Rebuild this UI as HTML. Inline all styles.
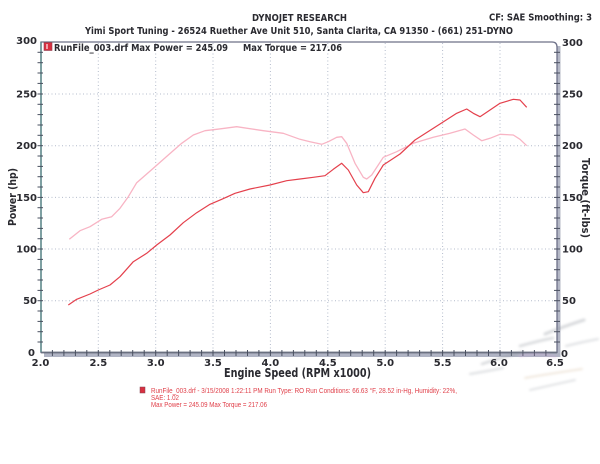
<!DOCTYPE html>
<html>
<head>
<meta charset="utf-8">
<style>
html,body{margin:0;padding:0;background:#fff;}
svg{display:block;}
.b{font-family:"DejaVu Sans","Liberation Sans",sans-serif;font-weight:bold;fill:#2a2a30;}
.f{font-family:"Liberation Sans",sans-serif;fill:#e0404a;font-size:7px;}
</style>
</head>
<body>
<svg width="600" height="464" viewBox="0 0 600 464" xmlns="http://www.w3.org/2000/svg">
<defs>
<filter id="bl" x="-20%" y="-50%" width="140%" height="200%"><feGaussianBlur stdDeviation="1.2"/></filter>
</defs>
<rect width="600" height="464" fill="#fff"/>

<!-- header -->
<text class="b" x="252" y="21" font-size="9.5" textLength="95" lengthAdjust="spacingAndGlyphs">DYNOJET RESEARCH</text>
<text class="b" x="489" y="20.5" font-size="9.5" textLength="103" lengthAdjust="spacingAndGlyphs">CF: SAE  Smoothing: 3</text>
<text class="b" x="85" y="34" font-size="9.5" textLength="428" lengthAdjust="spacingAndGlyphs">Yimi Sport Tuning - 26524 Ruether Ave Unit 510, Santa Clarita, CA 91350 - (661) 251-DYNO</text>

<!-- grid -->
<g stroke="#b4bccc" stroke-width="1" stroke-dasharray="1,2.5" fill="none">
  <line x1="98.3" y1="43" x2="98.3" y2="352"/>
  <line x1="155.7" y1="43" x2="155.7" y2="352"/>
  <line x1="213" y1="43" x2="213" y2="352"/>
  <line x1="270.4" y1="43" x2="270.4" y2="352"/>
  <line x1="327.8" y1="43" x2="327.8" y2="352"/>
  <line x1="385.2" y1="43" x2="385.2" y2="352"/>
  <line x1="442.6" y1="43" x2="442.6" y2="352"/>
  <line x1="500" y1="43" x2="500" y2="352"/>
  <line x1="41" y1="94" x2="556" y2="94"/>
  <line x1="41" y1="145.7" x2="556" y2="145.7"/>
  <line x1="41" y1="197.4" x2="556" y2="197.4"/>
  <line x1="41" y1="249" x2="556" y2="249"/>
  <line x1="41" y1="300.7" x2="556" y2="300.7"/>
</g>

<!-- frame shadows -->
<rect x="557" y="46" width="3.5" height="311" fill="#b4b8c6"/>
<rect x="44" y="353" width="516" height="4" fill="#b0b4c4"/>
<!-- frame -->
<path d="M41,352.5 L41,42 L552,42 Q557,42 557,47 L557,352.5 Z" fill="none" stroke="#6d7088" stroke-width="1.3"/>
<line x1="41" y1="352.5" x2="557" y2="352.5" stroke="#6a7080" stroke-width="1.8"/>
<line x1="41" y1="42" x2="41" y2="352" stroke="#5a8a8a" stroke-width="1.4"/>

<!-- left ticks -->
<g stroke="#4a5060" stroke-width="1">
  <line x1="37.5" y1="52.3" x2="43" y2="52.3"/><line x1="37.5" y1="62.7" x2="43" y2="62.7"/><line x1="37.5" y1="73" x2="43" y2="73"/><line x1="37.5" y1="83.4" x2="43" y2="83.4"/><line x1="37.5" y1="94" x2="43" y2="94"/>
  <line x1="37.5" y1="104.3" x2="43" y2="104.3"/><line x1="37.5" y1="114.6" x2="43" y2="114.6"/><line x1="37.5" y1="125" x2="43" y2="125"/><line x1="37.5" y1="135.3" x2="43" y2="135.3"/><line x1="37.5" y1="145.7" x2="43" y2="145.7"/>
  <line x1="37.5" y1="156" x2="43" y2="156"/><line x1="37.5" y1="166.4" x2="43" y2="166.4"/><line x1="37.5" y1="176.7" x2="43" y2="176.7"/><line x1="37.5" y1="187" x2="43" y2="187"/><line x1="37.5" y1="197.4" x2="43" y2="197.4"/>
  <line x1="37.5" y1="207.7" x2="43" y2="207.7"/><line x1="37.5" y1="218" x2="43" y2="218"/><line x1="37.5" y1="228.4" x2="43" y2="228.4"/><line x1="37.5" y1="238.7" x2="43" y2="238.7"/><line x1="37.5" y1="249" x2="43" y2="249"/>
  <line x1="37.5" y1="259.4" x2="43" y2="259.4"/><line x1="37.5" y1="269.7" x2="43" y2="269.7"/><line x1="37.5" y1="280" x2="43" y2="280"/><line x1="37.5" y1="290.4" x2="43" y2="290.4"/><line x1="37.5" y1="300.7" x2="43" y2="300.7"/>
  <line x1="37.5" y1="311" x2="43" y2="311"/><line x1="37.5" y1="321.4" x2="43" y2="321.4"/><line x1="37.5" y1="331.7" x2="43" y2="331.7"/><line x1="37.5" y1="342" x2="43" y2="342"/>
</g>
<!-- right ticks -->
<g stroke="#4a5060" stroke-width="1">
  <line x1="554" y1="52.3" x2="560" y2="52.3"/><line x1="554" y1="62.7" x2="560" y2="62.7"/><line x1="554" y1="73" x2="560" y2="73"/><line x1="554" y1="83.4" x2="560" y2="83.4"/><line x1="554" y1="94" x2="560" y2="94"/>
  <line x1="554" y1="104.3" x2="560" y2="104.3"/><line x1="554" y1="114.6" x2="560" y2="114.6"/><line x1="554" y1="125" x2="560" y2="125"/><line x1="554" y1="135.3" x2="560" y2="135.3"/><line x1="554" y1="145.7" x2="560" y2="145.7"/>
  <line x1="554" y1="156" x2="560" y2="156"/><line x1="554" y1="166.4" x2="560" y2="166.4"/><line x1="554" y1="176.7" x2="560" y2="176.7"/><line x1="554" y1="187" x2="560" y2="187"/><line x1="554" y1="197.4" x2="560" y2="197.4"/>
  <line x1="554" y1="207.7" x2="560" y2="207.7"/><line x1="554" y1="218" x2="560" y2="218"/><line x1="554" y1="228.4" x2="560" y2="228.4"/><line x1="554" y1="238.7" x2="560" y2="238.7"/><line x1="554" y1="249" x2="560" y2="249"/>
  <line x1="554" y1="259.4" x2="560" y2="259.4"/><line x1="554" y1="269.7" x2="560" y2="269.7"/><line x1="554" y1="280" x2="560" y2="280"/><line x1="554" y1="290.4" x2="560" y2="290.4"/><line x1="554" y1="300.7" x2="560" y2="300.7"/>
  <line x1="554" y1="311" x2="560" y2="311"/><line x1="554" y1="321.4" x2="560" y2="321.4"/><line x1="554" y1="331.7" x2="560" y2="331.7"/><line x1="554" y1="342" x2="560" y2="342"/>
</g>
<!-- bottom ticks -->
<g stroke="#4a5060" stroke-width="1">
  <line x1="52.4" y1="350" x2="52.4" y2="356"/><line x1="63.9" y1="350" x2="63.9" y2="356"/><line x1="75.4" y1="350" x2="75.4" y2="356"/><line x1="86.8" y1="350" x2="86.8" y2="356"/><line x1="98.3" y1="350" x2="98.3" y2="356"/>
  <line x1="109.8" y1="350" x2="109.8" y2="356"/><line x1="121.2" y1="350" x2="121.2" y2="356"/><line x1="132.7" y1="350" x2="132.7" y2="356"/><line x1="144.2" y1="350" x2="144.2" y2="356"/><line x1="155.7" y1="350" x2="155.7" y2="356"/>
  <line x1="167.2" y1="350" x2="167.2" y2="356"/><line x1="178.6" y1="350" x2="178.6" y2="356"/><line x1="190.1" y1="350" x2="190.1" y2="356"/><line x1="201.6" y1="350" x2="201.6" y2="356"/><line x1="213" y1="350" x2="213" y2="356"/>
  <line x1="224.5" y1="350" x2="224.5" y2="356"/><line x1="236" y1="350" x2="236" y2="356"/><line x1="247.5" y1="350" x2="247.5" y2="356"/><line x1="258.9" y1="350" x2="258.9" y2="356"/><line x1="270.4" y1="350" x2="270.4" y2="356"/>
  <line x1="281.9" y1="350" x2="281.9" y2="356"/><line x1="293.4" y1="350" x2="293.4" y2="356"/><line x1="304.8" y1="350" x2="304.8" y2="356"/><line x1="316.3" y1="350" x2="316.3" y2="356"/><line x1="327.8" y1="350" x2="327.8" y2="356"/>
  <line x1="339.3" y1="350" x2="339.3" y2="356"/><line x1="350.7" y1="350" x2="350.7" y2="356"/><line x1="362.2" y1="350" x2="362.2" y2="356"/><line x1="373.7" y1="350" x2="373.7" y2="356"/><line x1="385.2" y1="350" x2="385.2" y2="356"/>
  <line x1="396.6" y1="350" x2="396.6" y2="356"/><line x1="408.1" y1="350" x2="408.1" y2="356"/><line x1="419.6" y1="350" x2="419.6" y2="356"/><line x1="431.1" y1="350" x2="431.1" y2="356"/><line x1="442.6" y1="350" x2="442.6" y2="356"/>
  <line x1="454" y1="350" x2="454" y2="356"/><line x1="465.5" y1="350" x2="465.5" y2="356"/><line x1="477" y1="350" x2="477" y2="356"/><line x1="488.5" y1="350" x2="488.5" y2="356"/><line x1="500" y1="350" x2="500" y2="356"/>
  <line x1="511.4" y1="350" x2="511.4" y2="356"/><line x1="522.9" y1="350" x2="522.9" y2="356"/><line x1="534.4" y1="350" x2="534.4" y2="356"/><line x1="545.9" y1="350" x2="545.9" y2="356"/>
</g>

<!-- scan smudges -->
<g stroke-linecap="round" fill="none" opacity="0.35" filter="url(#bl)">
  <path d="M545,334 Q562,327 584,320" stroke="#8a9098" stroke-width="3"/>
  <path d="M520,346 Q538,341 553,338" stroke="#90969e" stroke-width="2.5"/>
  <path d="M482,364 Q500,358 522,352" stroke="#8a9098" stroke-width="2.5"/>
  <path d="M470,374 Q488,371 503,368" stroke="#9aa0a8" stroke-width="2"/>
  <path d="M525,378 Q548,374 582,369" stroke="#c8a880" stroke-width="1.5"/>
  <path d="M530,390 Q552,385 575,380" stroke="#90969e" stroke-width="1.5"/>
  <path d="M566,346 Q582,342 598,339" stroke="#a0a6ae" stroke-width="2"/>
  <path d="M520,356 Q538,352 556,357" stroke="#d0a0d8" stroke-width="2"/>
</g>

<!-- curves -->
<polyline fill="none" stroke="#f8b4c4" stroke-width="1.3" stroke-linejoin="round" points="69.3,239.3 80,230.7 90,226.7 101.7,219.3 111.7,216.7 120,208.3 128.3,196.7 136.7,182.7 153.3,168.3 168.3,155 181.7,143.3 193.3,135 205,130.7 216.7,129.3 236.7,126.7 263.3,130.7 283.3,133.3 300,139.3 310,141.7 321.7,144.3 328.3,141.7 336.7,137.3 341.7,136.7 346.7,143.3 355,163.3 363.3,177.3 366.7,179 371.7,175 383.3,157.3 396.7,151.7 413.3,143.3 433.3,137.3 450,133.3 465,129 473.3,135 481.7,140.7 490,138.3 500,134.3 513.3,135 520,139.3 526.7,145.7"/>
<polyline fill="none" stroke="#e4404c" stroke-width="1.2" stroke-linejoin="round" points="68.3,305 76.7,299.3 90,294 98.3,290 110,285 120,276.7 133.3,261.7 146.7,253.3 156.7,245 170,235 183.3,222.7 196.7,212.7 210,204.3 221.7,199.3 235,193.3 250,189 270,185 286.7,180.7 300,179 313.3,177.3 325,175.7 333.3,169.3 341.7,163.3 348.3,170 356.7,185 363.3,192.7 368.3,191.7 375,178.3 383.3,165 400,154 415,140 440,124 456.7,113.3 466.7,109 473.3,113.3 480,116.7 486.7,112.3 500,103.3 513.3,99.3 520,100 526.7,107.3"/>

<!-- legend -->
<rect x="44" y="42.5" width="8" height="8" fill="#d83040" stroke="#904050" stroke-width="0.6"/>
<rect x="46" y="44" width="2" height="5" fill="#f0a0a8"/>
<text class="b" x="54" y="51" font-size="9.5" textLength="174" lengthAdjust="spacingAndGlyphs">RunFile_003.drf Max Power = 245.09</text>
<text class="b" x="243" y="51" font-size="9.5" textLength="99" lengthAdjust="spacingAndGlyphs">Max Torque = 217.06</text>

<!-- left labels -->
<g class="b" font-size="10" text-anchor="end">
  <text x="37" y="44">300</text>
  <text x="37" y="97.5">250</text>
  <text x="37" y="149">200</text>
  <text x="37" y="201">150</text>
  <text x="37" y="252.5">100</text>
  <text x="37" y="304">50</text>
  <text x="35" y="356">0</text>
</g>
<!-- right labels -->
<g class="b" font-size="10">
  <text x="562" y="46">300</text>
  <text x="562" y="97.5">250</text>
  <text x="562" y="149">200</text>
  <text x="562" y="201">150</text>
  <text x="562" y="252.5">100</text>
  <text x="562" y="304">50</text>
  <text x="561" y="357">0</text>
</g>
<!-- x labels -->
<g class="b" font-size="10" text-anchor="middle">
  <text x="40.5" y="366">2.0</text>
  <text x="98.3" y="366">2.5</text>
  <text x="155.7" y="366">3.0</text>
  <text x="213" y="366">3.5</text>
  <text x="270.4" y="366">4.0</text>
  <text x="327.8" y="366">4.5</text>
  <text x="385.2" y="366">5.0</text>
  <text x="442.6" y="366">5.5</text>
  <text x="499" y="366">6.0</text>
  <text x="555" y="366">6.5</text>
</g>

<!-- axis titles -->
<text class="b" x="224" y="377" font-size="12" textLength="147" lengthAdjust="spacingAndGlyphs">Engine Speed (RPM x1000)</text>
<text class="b" font-size="11" transform="translate(16,226) rotate(-90)" textLength="58" lengthAdjust="spacingAndGlyphs">Power (hp)</text>
<text class="b" font-size="11" transform="translate(582,158) rotate(90)" textLength="80" lengthAdjust="spacingAndGlyphs">Torque (ft-lbs)</text>

<!-- footer -->
<rect x="140" y="387" width="5" height="6" fill="#d83040" stroke="#804050" stroke-width="0.5"/>
<text class="f" x="151" y="393" textLength="306" lengthAdjust="spacingAndGlyphs">RunFile_003.drf - 3/15/2008 1:22:11 PM  Run Type: RO  Run Conditions: 66.63 °F, 28.52 in-Hg,  Humidity:  22%,</text>
<text class="f" x="151" y="400" textLength="28" lengthAdjust="spacingAndGlyphs">SAE: 1.02</text>
<text class="f" x="151" y="407" textLength="116" lengthAdjust="spacingAndGlyphs">Max Power = 245.09  Max Torque = 217.06</text>
</svg>
</body>
</html>
